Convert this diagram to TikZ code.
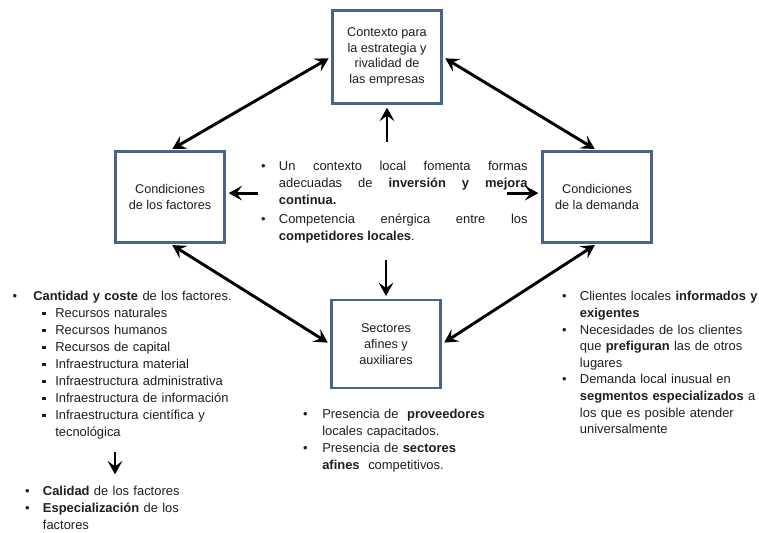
\documentclass[tikz,border=0pt]{standalone}
\usepackage{fontspec}
\setmainfont{Liberation Sans}
\usepackage{enumitem}
\usetikzlibrary{arrows.meta}
\usetikzlibrary{positioning}
\definecolor{frameblue}{RGB}{70,100,140}
\definecolor{inkgray}{RGB}{30,30,30}
\setlist[itemize]{topsep=0pt,itemsep=0pt,parsep=0pt,partopsep=0pt,label=\textbullet}
\tikzset{
  factor/.style={rectangle,draw=frameblue,line width=2pt,fill=white,
    minimum width=82pt,minimum height=68pt,align=center,inner sep=2pt,
    font=\fontsize{9.5}{11.8}\selectfont,text=inkgray},
  notes/.style={inner sep=0pt,anchor=north west,align=left,
    font=\fontsize{9.7}{12.75}\selectfont,text=inkgray},
  link/.style={{Stealth[length=10pt,width=11pt,inset=4pt]}-{Stealth[length=10pt,width=11pt,inset=4pt]},
    line width=2.2pt,shorten <=2pt,shorten >=2pt},
  push/.style={-{Stealth[length=10pt,width=11pt,inset=4pt]},line width=2.2pt,shorten >=2pt}
}
\newcommand{\subbox}{\raisebox{1.6pt}{\rule{2.6pt}{2.6pt}}}

\begin{document}
\begin{tikzpicture}[x=0.75pt,y=-0.75pt]
  \useasboundingbox (0,0) rectangle (759,532);
  % the four corners of the diamond
  \node (rival) [factor,minimum height=70pt] at (387,57)
    {Contexto para\\la estrategia y\\rivalidad de\\las empresas};
  \node (fac) [factor] at (170,197) {Condiciones\\de los factores};
  \node (dem) [factor] at (597,197) {Condiciones\\de la demanda};
  \node (sect) [factor,minimum height=66pt] at (386,344) {Sectores\\afines y\\auxiliares};

  % centre
  \node (hub) [notes,text width=202pt,align=justify] at (258,153) {%
    \begin{itemize}[leftmargin=15.5pt,labelsep=10pt,itemsep=2pt]
    \item Un contexto local fomenta formas\linebreak
      adecuadas de \textbf{inversión y mejora}\linebreak
      \textbf{continua.}
    \item Competencia enérgica entre los\linebreak
      \textbf{competidores locales}.
    \end{itemize}};

  % lists round the diamond
  \node (factlist) [notes,text width=190pt] at (8,283) {%
    \begin{itemize}[leftmargin=18.75pt,labelsep=12pt]
    \item \textbf{Cantidad y coste} de los factores.
      \begin{itemize}[leftmargin=16.5pt,labelsep=7pt,label=\subbox]
      \item Recursos naturales
      \item Recursos humanos
      \item Recursos de capital
      \item Infraestructura material
      \item Infraestructura administrativa
      \item Infraestructura de información
      \item Infraestructura científica y\newline tecnológica
      \end{itemize}
    \end{itemize}};
  \node (quallist) [notes,text width=140pt] at (22,478) {%
    \begin{itemize}[leftmargin=15.5pt,labelsep=10pt]
    \item \textbf{Calidad} de los factores
    \item \textbf{Especialización} de los\newline factores
    \end{itemize}};
  \node (sectlist) [notes,text width=160pt] at (298,401) {%
    \begin{itemize}[leftmargin=18pt,labelsep=11pt]
    \item Presencia de \ \textbf{proveedores}\newline locales capacitados.
    \item Presencia de \textbf{sectores}\newline \textbf{afines} \ competitivos.
    \end{itemize}};
  \node (demlist) [notes,text width=200pt,font=\fontsize{9.7}{12.45}\selectfont] at (559,284) {%
    \begin{itemize}[leftmargin=15.5pt,labelsep=10pt]
    \item Clientes locales \textbf{informados y}\newline \textbf{exigentes}
    \item Necesidades de los clientes\newline que \textbf{prefiguran} las de otros\newline lugares
    \item Demanda local inusual en\newline \textbf{segmentos especializados} a\newline
      los que es posible atender\newline universalmente
    \end{itemize}};

  % connectors
  \draw[link] (rival.west) -- (fac.north);
  \draw[link] (rival.east) -- (dem.north);
  \draw[link] (fac.south) -- (sect.west);
  \draw[link] (dem.south) -- (sect.east);
  \draw[push] ([yshift=8pt]hub.north -| rival.south) -- (rival.south);
  \draw[push] ([yshift=-12pt]hub.south -| sect.north) -- (sect.north);
  \draw[push] ([yshift=4pt]hub.west) -- ([yshift=4pt]hub.west -| fac.east);
  \draw[push] ([xshift=-16pt,yshift=4pt]hub.east) -- ([yshift=4pt]hub.east -| dem.west);
  \coordinate (q1) at (115,452);
  \coordinate (q2) at (115,477);
  \draw[push] (q1) -- (q2);
\end{tikzpicture}
\end{document}
